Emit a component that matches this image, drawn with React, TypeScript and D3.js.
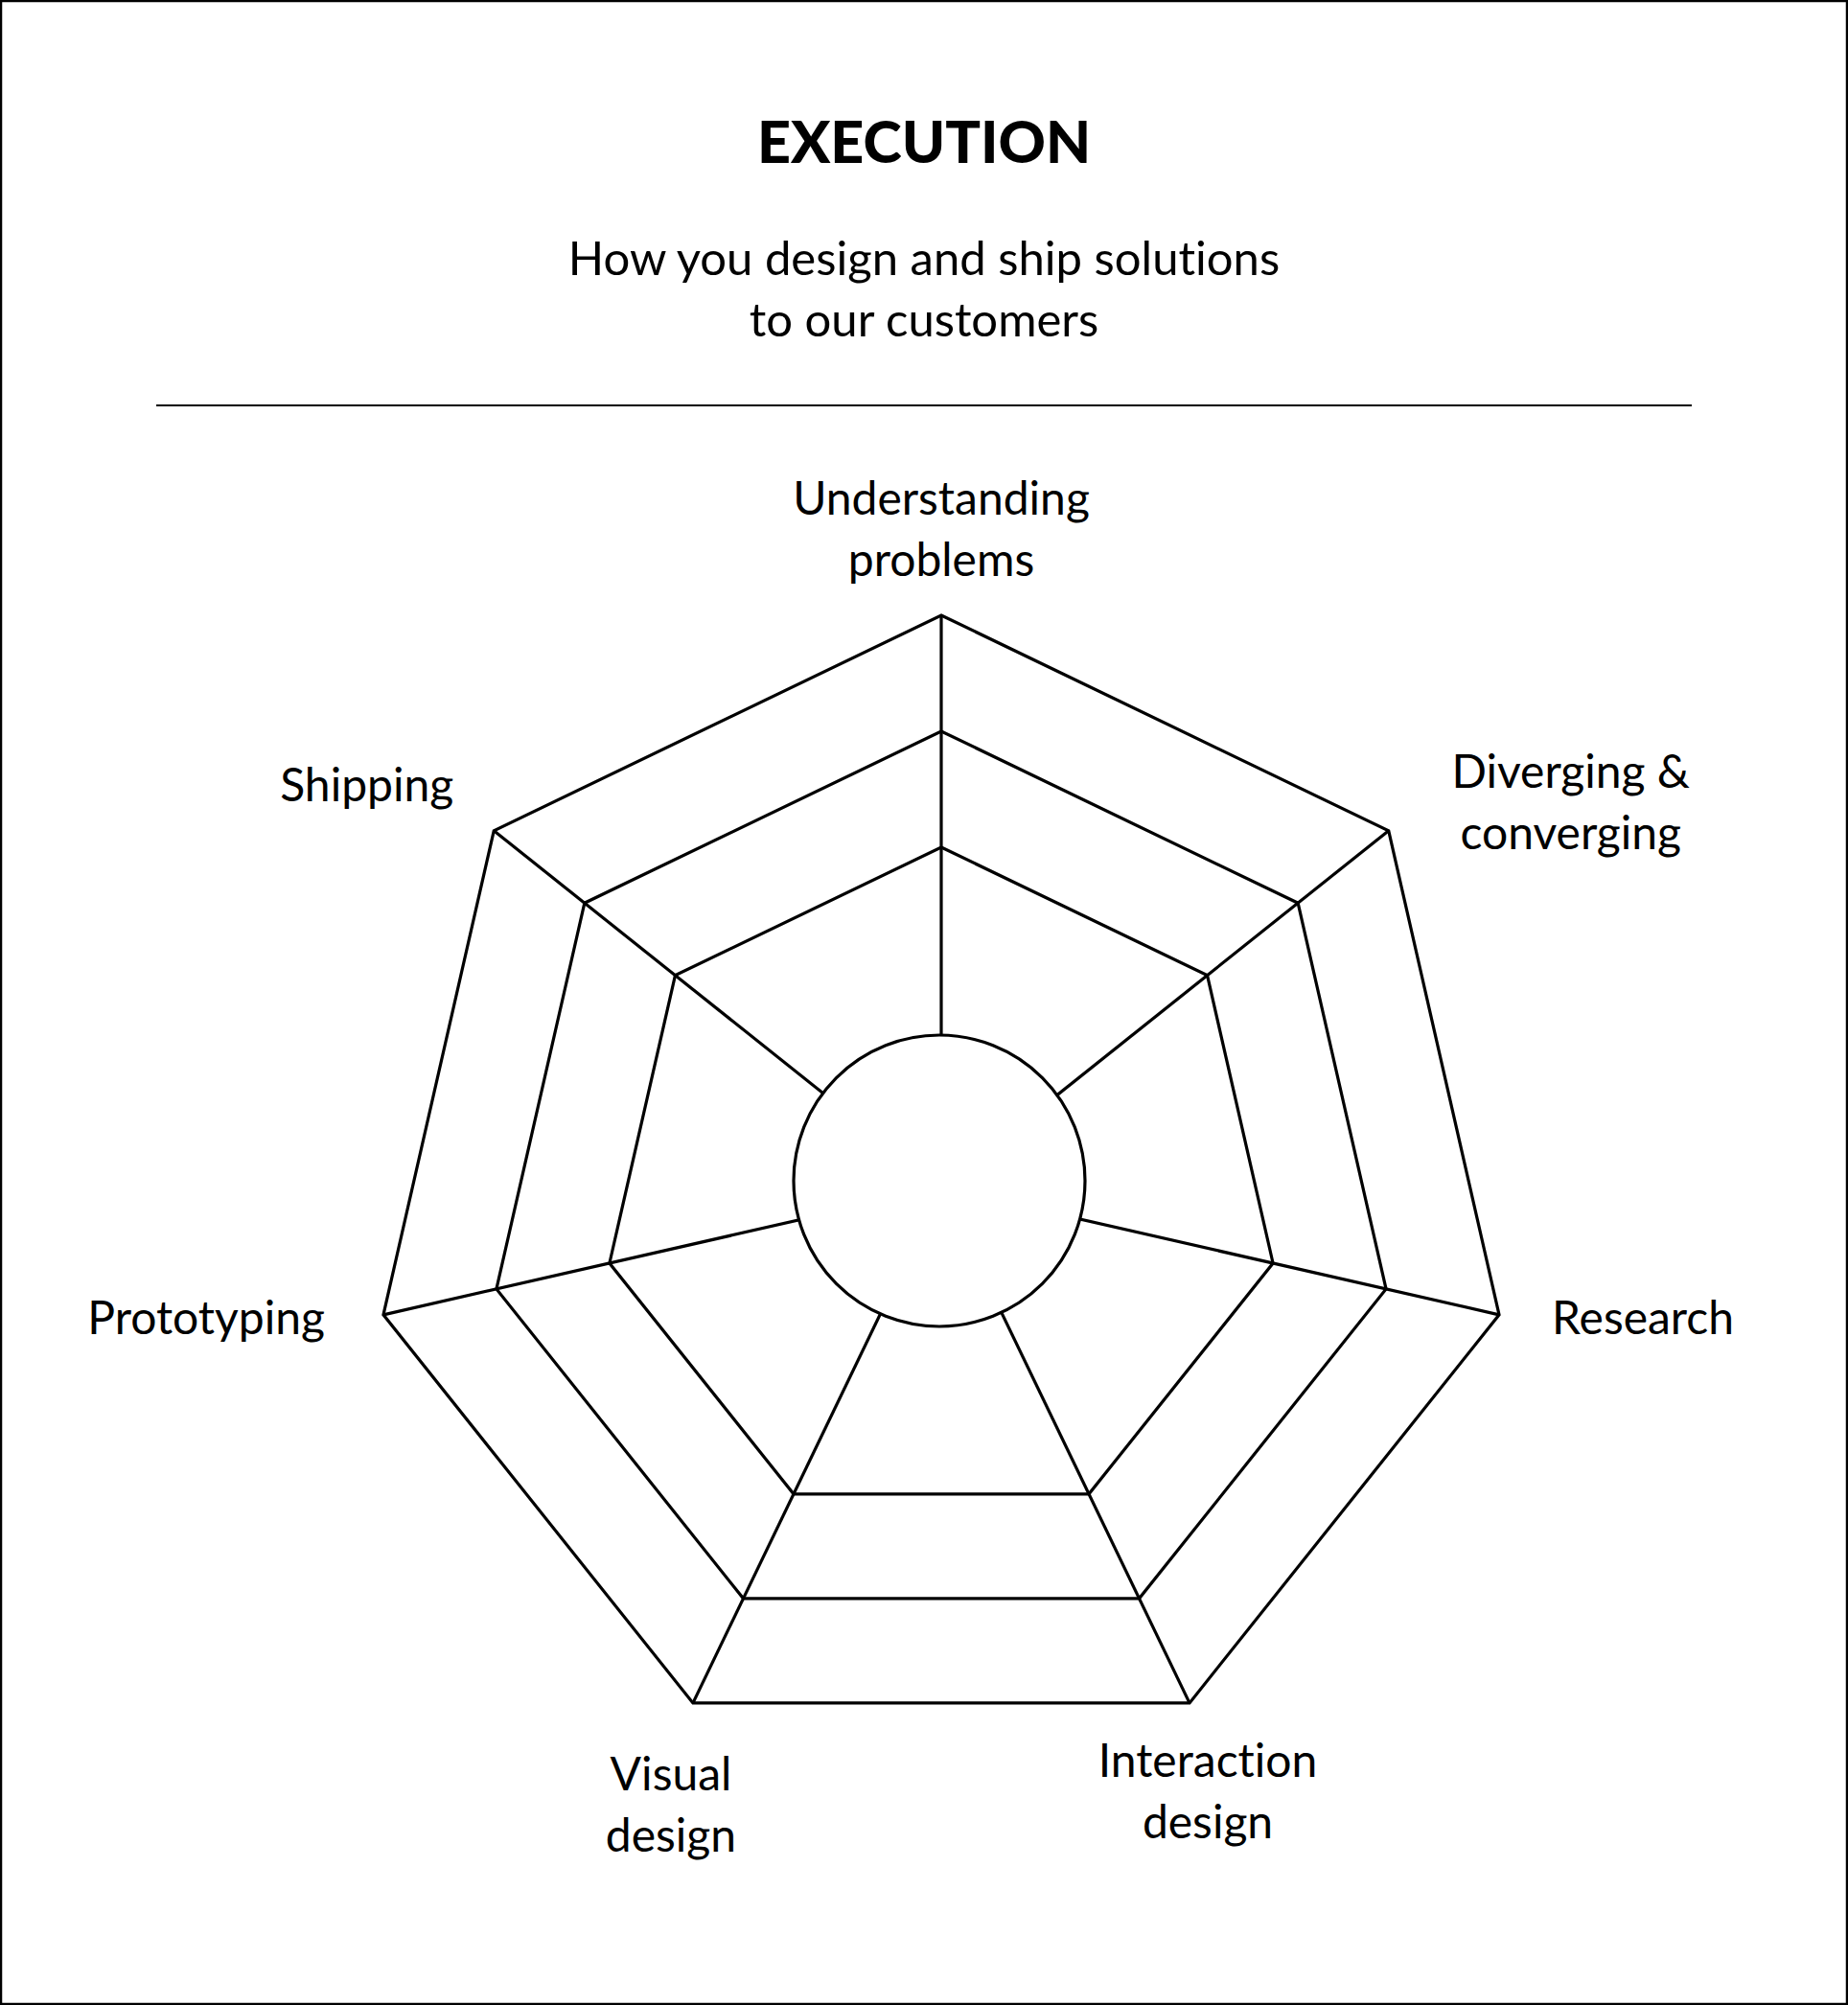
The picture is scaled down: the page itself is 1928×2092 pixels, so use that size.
import * as d3 from "d3";
import { useEffect, useRef } from "react";

const title = "EXECUTION";
const subtitleLines = ["How you design and ship solutions", "to our customers"];
const axisLabels = [
  ["Understanding", "problems"],
  ["Diverging &", "converging"],
  ["Research"],
  ["Interaction", "design"],
  ["Visual", "design"],
  ["Prototyping"],
  ["Shipping"],
];
const ringLevels = [1, 2, 3];

// label placement relative to each outer vertex (layout only)
const labelLayout = [
  { anchor: "middle", dx: 0, dy: -105 },
  { anchor: "middle", dx: 190, dy: -45 },
  { anchor: "start", dx: 55, dy: 20 },
  { anchor: "middle", dx: 19, dy: 77 },
  { anchor: "middle", dx: -23, dy: 91 },
  { anchor: "end", dx: -61, dy: 20 },
  { anchor: "end", dx: -42, dy: -31 },
];

export default function App() {
  const ref = useRef<SVGSVGElement>(null);

  useEffect(() => {
    const width = 1928;
    const height = 2092;
    const cx = 982;
    const cy = 1239;
    const lineH = 64;
    const font = "Lato, 'Open Sans', sans-serif";
    const sw = 3.2;

    const svg = d3.select(ref.current);
    svg.selectAll("*").remove();
    svg.attr("width", width).attr("height", height)
      .style("font-variant-ligatures", "none");

    svg.append("rect")
      .attr("x", 1).attr("y", 1)
      .attr("width", width - 2).attr("height", height - 2)
      .attr("fill", "#fff").attr("stroke", "#000").attr("stroke-width", 2.5);

    svg.append("text")
      .attr("x", 964).attr("y", 170)
      .attr("text-anchor", "middle")
      .attr("font-family", font).attr("font-weight", 900).attr("font-size", 61)
      .text(title);

    svg.append("g")
      .selectAll("text")
      .data(subtitleLines)
      .enter()
      .append("text")
      .attr("x", 964)
      .attr("y", (_, i) => 287 + i * lineH)
      .attr("text-anchor", "middle")
      .attr("font-family", font).attr("font-size", 49)
      .text(d => d);

    svg.append("line")
      .attr("x1", 163).attr("x2", 1765)
      .attr("y1", 423).attr("y2", 423)
      .attr("stroke", "#000").attr("stroke-width", 2);

    const n = axisLabels.length;
    const angle = d3.scaleLinear().domain([0, n]).range([0, 2 * Math.PI]);
    const r = d3.scaleLinear().domain([1, 3]).range([355, 597]);
    const rMax = r(d3.max(ringLevels)!);

    const g = svg.append("g").attr("transform", `translate(${cx},${cy})`);
    const idx = d3.range(n);

    const ring = (lvl: number) =>
      d3.lineRadial<number>()
        .angle(i => angle(i))
        .radius(r(lvl))
        .curve(d3.curveLinearClosed)(idx);

    g.selectAll("path.ring")
      .data(ringLevels)
      .enter()
      .append("path")
      .attr("class", "ring")
      .attr("d", d => ring(d))
      .attr("fill", "none")
      .attr("stroke", "#000")
      .attr("stroke-width", sw)
      .attr("stroke-linejoin", "miter");

    g.selectAll("line.spoke")
      .data(idx)
      .enter()
      .append("line")
      .attr("class", "spoke")
      .attr("x1", 0).attr("y1", 0)
      .attr("x2", i => d3.pointRadial(angle(i), rMax)[0])
      .attr("y2", i => d3.pointRadial(angle(i), rMax)[1])
      .attr("stroke", "#000")
      .attr("stroke-width", sw);

    // hub circle sits slightly above the heptagon centre
    g.append("circle")
      .attr("cx", -2).attr("cy", -7).attr("r", 152)
      .attr("fill", "#fff").attr("stroke", "#000").attr("stroke-width", sw);

    const labels = g.selectAll("text.label")
      .data(idx)
      .enter()
      .append("text")
      .attr("class", "label")
      .attr("font-family", font)
      .attr("font-size", 48)
      .attr("text-anchor", i => labelLayout[i].anchor);

    labels.each(function (i) {
      const [px, py] = d3.pointRadial(angle(i), rMax);
      const { dx, dy } = labelLayout[i];
      d3.select(this)
        .selectAll("tspan")
        .data(axisLabels[i])
        .enter()
        .append("tspan")
        .attr("x", px + dx)
        .attr("y", (_, j) => py + dy + j * lineH)
        .text(d => d);
    });
  }, []);

  return (
    <svg ref={ref} style={{ position: "absolute", left: 0, top: 0, display: "block" }} />
  );
}
